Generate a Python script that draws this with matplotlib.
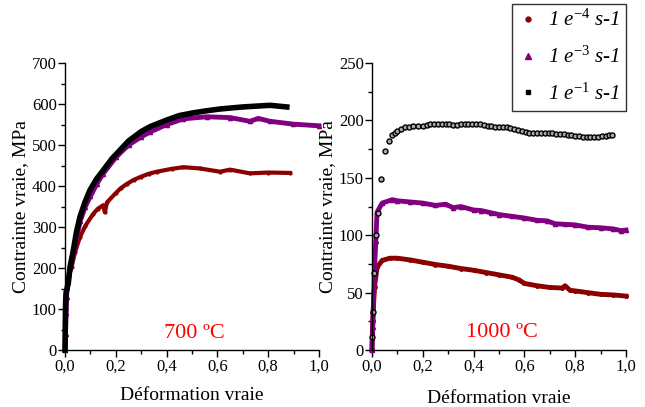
import numpy as np
import matplotlib.pyplot as plt
from matplotlib.ticker import MultipleLocator, FuncFormatter
from matplotlib.lines import Line2D

plt.rcParams['font.family'] = ['Liberation Serif', 'DejaVu Serif']
plt.rcParams['mathtext.fontset'] = 'custom'
plt.rcParams['mathtext.rm'] = 'Liberation Serif'
plt.rcParams['mathtext.it'] = 'Liberation Serif:italic'

#--------------------------------------------
# data
# 700 C
eps_700_r4 = [0.0, 0.003, 0.008, 0.015, 0.026, 0.04, 0.059, 0.08, 0.112, 0.13, 0.15, 0.157, 0.165,
              0.2, 0.22, 0.243, 0.27, 0.3, 0.33, 0.361, 0.42, 0.466, 0.53, 0.61, 0.65, 0.728,
              0.8, 0.886]
sig_700_r4 = [0, 100, 150, 180, 203, 240, 276, 303, 333, 345, 353, 336, 360,
              383, 395, 405, 415, 423, 430, 435, 442, 446, 443, 435, 440, 431, 433, 432]
eps_700_r3 = [0.0, 0.002, 0.004, 0.006, 0.01, 0.02, 0.035, 0.06, 0.08, 0.1, 0.125, 0.15, 0.2, 0.25,
              0.3, 0.335, 0.4, 0.466, 0.558, 0.65, 0.728, 0.761, 0.807, 0.899, 1.0]
sig_700_r3 = [0, 40, 90, 130, 165, 200, 245, 315, 350, 375, 405, 430, 470, 500,
              520, 532, 550, 564, 569, 567, 558, 565, 558, 551, 547]
eps_700_r1 = [0.0, 0.001, 0.002, 0.004, 0.008, 0.013, 0.02, 0.033, 0.045, 0.059, 0.078, 0.098,
              0.125, 0.151, 0.185, 0.217, 0.25, 0.3, 0.335, 0.4, 0.45, 0.5, 0.55, 0.61, 0.7,
              0.807, 0.873]
sig_700_r1 = [0, 60, 110, 140, 150, 163, 203, 244, 288, 325, 360, 390, 418, 439, 467, 488,
              510, 533, 545, 561, 572, 578, 583, 588, 593, 597, 593]

# 1000 C
eps_1000_r4 = [0.0, 0.003, 0.006, 0.01, 0.02, 0.04, 0.07, 0.1, 0.15, 0.2, 0.25, 0.3, 0.35, 0.4, 0.45,
               0.5, 0.55, 0.58, 0.6, 0.65, 0.7, 0.75, 0.76, 0.78, 0.8, 0.85, 0.9, 0.95, 1.0]
sig_1000_r4 = [0, 25, 40, 55, 72, 78, 80, 80, 78.5, 76.5, 74.5, 73, 71, 69.5, 67.5,
               65.5, 63.5, 61, 58, 56, 54.5, 54, 56, 52, 51.5, 50, 48.5, 48, 47]
eps_1000_r3 = [0.0, 0.003, 0.006, 0.01, 0.015, 0.02, 0.04, 0.08, 0.1, 0.15, 0.2, 0.25, 0.29, 0.32,
               0.35, 0.4, 0.43, 0.47, 0.5, 0.55, 0.6, 0.65, 0.69, 0.72, 0.76, 0.8, 0.85, 0.9,
               0.95, 0.98, 1.0]
sig_1000_r3 = [0, 20, 40, 70, 95, 120, 128, 131, 130, 129, 128, 126, 127, 124,
               125, 122, 121.5, 119.5, 118, 116.5, 115, 113, 112.5, 110, 109.5, 109, 107, 106.5,
               105.5, 104, 104.5]
eps_1000_r1 = [0.0, 0.004, 0.009, 0.016, 0.022, 0.035, 0.05, 0.066, 0.079, 0.09, 0.1, 0.115, 0.13,
               0.145, 0.16, 0.18, 0.2, 0.215, 0.23, 0.245, 0.26, 0.275, 0.29, 0.305, 0.32, 0.335,
               0.35, 0.365, 0.38, 0.395, 0.41, 0.425, 0.44, 0.455, 0.47, 0.485, 0.5, 0.515, 0.53,
               0.545, 0.56, 0.575, 0.59, 0.605, 0.62, 0.635, 0.65, 0.665, 0.68, 0.695, 0.71, 0.725,
               0.74, 0.755, 0.77, 0.785, 0.8, 0.815, 0.83, 0.845, 0.86, 0.875, 0.89, 0.905, 0.92,
               0.935, 0.945]
sig_1000_r1 = [11.6, 33, 67, 100, 119, 149, 173, 182, 187, 189.5, 191, 193, 194,
               194.5, 195, 195, 195.5, 196, 196.5, 197, 197, 197, 196.5, 196.5, 196, 196,
               196.5, 197, 197, 197, 197, 196.5, 196, 195.5, 195, 194.5, 194, 194, 194,
               193.5, 193, 192, 191, 190, 189.5, 189.5, 189.5, 189.5, 189, 189, 189, 188.5,
               188, 188, 187.5, 187, 186.5, 186.5, 186, 186, 185.5, 185.5, 186, 186.5, 186.5,
               187, 187]

legend_labels = [r'1 e$^{\mathit{-4}}$ s-1', r'1 e$^{\mathit{-3}}$ s-1', r'1 e$^{\mathit{-1}}$ s-1']
c_r4 = '#8b0000'
c_r3 = '#800080'
c_r1 = 'black'

#--------------------------------------------
fig = plt.figure(figsize=(6.45, 4.07), dpi=100)
ax1 = fig.add_axes([0.1008, 0.140, 0.3938, 0.705])
ax2 = fig.add_axes([0.5767, 0.140, 0.3938, 0.705])

comma = FuncFormatter(lambda v, p: ('%.1f' % v).replace('.', ','))

def style(ax, ymax, ystep):
    for s in ['top', 'right']:
        ax.spines[s].set_visible(False)
    for s in ['left', 'bottom']:
        ax.spines[s].set_linewidth(1.0)
    ax.set_xlim(0, 1.0)
    ax.set_ylim(0, ymax)
    ax.xaxis.set_major_locator(MultipleLocator(0.2))
    ax.xaxis.set_minor_locator(MultipleLocator(0.1))
    ax.yaxis.set_major_locator(MultipleLocator(ystep))
    ax.yaxis.set_minor_locator(MultipleLocator(ystep / 2))
    ax.xaxis.set_major_formatter(comma)
    ax.tick_params(which='major', direction='out', length=5, width=1, labelsize=12, pad=1)
    ax.tick_params(which='minor', direction='out', length=3, width=1)
    ax.set_xlabel('Déformation vraie', fontsize=14)
    ax.set_ylabel('Contrainte vraie, MPa', fontsize=14, labelpad=2)

style(ax1, 700, 100)
style(ax2, 250, 50)
ax1.xaxis.labelpad = 9
ax2.xaxis.labelpad = 11

# 700 C
ax1.plot(eps_700_r4, sig_700_r4, '-', color=c_r4, lw=3, marker='o', ms=2, clip_on=False)
ax1.plot(eps_700_r3, sig_700_r3, '-', color=c_r3, lw=3.5, marker='^', ms=3, clip_on=False)
ax1.plot(eps_700_r1, sig_700_r1, '-', color=c_r1, lw=4, marker='s', ms=2, clip_on=False)
ax1.text(0.51, 40, '700 ºC', color='red', fontsize=16, ha='center', va='center')

# 1000 C
ax2.plot(eps_1000_r4, sig_1000_r4, '-', color=c_r4, lw=3.5, marker='o', ms=2.5, clip_on=False)
ax2.plot(eps_1000_r3, sig_1000_r3, '-', color=c_r3, lw=3.5, marker='^', ms=3, clip_on=False)
ax2.plot(eps_1000_r1, sig_1000_r1, 'o', mfc='#aaaaaa', mec='black', mew=1, ms=3.6, clip_on=False)
ax2.text(0.51, 15, '1000 ºC', color='red', fontsize=16, ha='center', va='center')

handles = [Line2D([], [], ls='none', marker='o', color=c_r4, ms=3.5),
           Line2D([], [], ls='none', marker='^', color=c_r3, ms=4),
           Line2D([], [], ls='none', marker='s', color=c_r1, ms=3.5)]
leg = fig.legend(handles, legend_labels, loc='upper right', bbox_to_anchor=(0.971, 0.991),
                 fontsize=15, frameon=True, fancybox=False, framealpha=1,
                 edgecolor='#333333', handlelength=0.9, handletextpad=0.55,
                 borderpad=0.3, labelspacing=0.75, borderaxespad=0)
leg.get_frame().set_linewidth(1.0)
for t in leg.get_texts():
    t.set_fontstyle('italic')

fig.savefig('out.png', dpi=100)
